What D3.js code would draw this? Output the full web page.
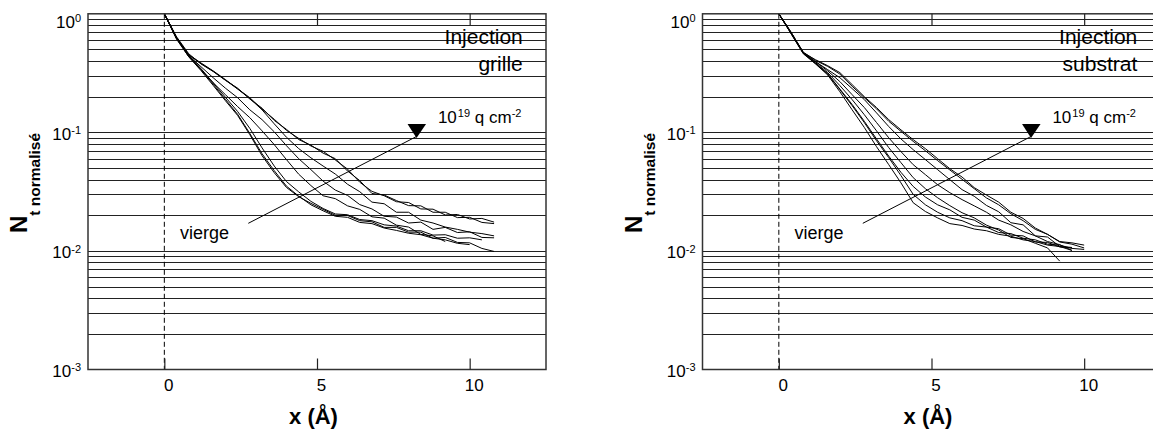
<!DOCTYPE html>
<html><head><meta charset="utf-8">
<script src="https://cdn.jsdelivr.net/npm/d3@7"></script>
<style>
body{margin:0;background:#fff}
svg{display:block}
text{font-family:"Liberation Sans",Arial,Helvetica,sans-serif}
</style>
</head><body>
<svg id="chart" width="1153" height="432"></svg>
<script>
// ---------- data ----------
const xTicks = [0, 5, 10];
const yDecades = [1, 0.1, 0.01, 0.001];
const xGrid = [0,0.4,0.8,1.2,1.6,2,2.4,2.8,3.2,3.6,4,4.4,4.8,5.2,5.6,6,6.4,6.8,7.2,7.6,8,8.4,8.8,9.2,9.6,10,10.4,10.8];

// Injection grille
const grille1 = [1.0,0.62,0.452,0.385,0.330,0.279,0.233,0.196,0.157,0.129,0.104,0.089,0.0768,0.0692,0.0585,0.0490,0.0380,0.0318,0.0292,0.0260,0.0256,0.0226,0.0225,0.0201,0.0203,0.0186,0.0188,0.0175];
const grille2 = [1.0,0.64,0.460,0.378,0.326,0.275,0.236,0.191,0.160,0.126,0.106,0.087,0.0780,0.0668,0.0600,0.0472,0.0392,0.0305,0.0296,0.0266,0.0241,0.0240,0.0212,0.0212,0.0191,0.0192,0.0174,0.0170];
const grille3 = [1.0,0.63,0.448,0.380,0.328,0.276,0.232,0.193,0.155,0.118,0.091,0.073,0.0610,0.0520,0.0445,0.0365,0.0316,0.0258,0.0250,0.0212,0.0212,0.0182,0.0172,0.0159,0.0152,0.0144,0.0140,0.0134];
const grille4 = [1.0,0.63,0.444,0.358,0.289,0.236,0.196,0.155,0.128,0.101,0.0772,0.0600,0.0485,0.0388,0.0326,0.0294,0.0246,0.0226,0.0196,0.0193,0.0172,0.0175,0.0152,0.0158,0.0143,0.0145,0.0130,0.0129];
const grille5 = [1.0,0.62,0.434,0.338,0.262,0.208,0.165,0.133,0.103,0.0788,0.0589,0.0444,0.0356,0.0292,0.0276,0.0240,0.0224,0.0194,0.0189,0.0165,0.0159,0.0138,0.0134,0.0120];
const grille6 = [1.0,0.61,0.434,0.332,0.249,0.185,0.139,0.0956,0.0636,0.0457,0.0343,0.0287,0.0252,0.0224,0.0200,0.0199,0.0180,0.0176,0.0158,0.0158,0.0144,0.0144,0.0128,0.0130,0.0118,0.0117,0.0105,0.0099];
const grille7 = [1.0,0.62,0.440,0.340,0.255,0.190,0.142,0.098,0.066,0.0475,0.0352,0.0290,0.0245,0.0218,0.0196,0.0192,0.0174,0.0170,0.0156,0.0149,0.0141,0.0137,0.0128,0.0124,0.0116,0.0113];
const grille8 = [1.0,0.63,0.445,0.345,0.262,0.198,0.150,0.108,0.074,0.052,0.0385,0.0315,0.0262,0.0228,0.0205,0.0202,0.0184,0.0180,0.0166,0.0162,0.0148,0.0148,0.0136,0.0137,0.0128,0.0129,0.0124];

// Injection substrat
const substrat1 = [1.0,0.69,0.470,0.410,0.365,0.319,0.253,0.200,0.162,0.128,0.105,0.0868,0.0729,0.0600,0.0494,0.0420,0.0342,0.0296,0.0258,0.0212,0.0188,0.0156,0.0138,0.0119,0.0114,0.0106];
const substrat2 = [1.0,0.70,0.475,0.405,0.360,0.310,0.245,0.196,0.158,0.124,0.102,0.0840,0.0700,0.0578,0.0482,0.0402,0.0335,0.0280,0.0245,0.0206,0.0180,0.0152,0.0138,0.0120,0.0117,0.0112];
const substrat3 = [1.0,0.69,0.470,0.395,0.338,0.289,0.234,0.189,0.146,0.112,0.088,0.0715,0.0589,0.0485,0.0399,0.0329,0.0289,0.0242,0.0214,0.0173,0.0166,0.0134,0.0131,0.0109,0.0107];
const substrat4 = [1.0,0.69,0.470,0.395,0.330,0.268,0.208,0.162,0.121,0.090,0.0688,0.0534,0.0440,0.0362,0.0310,0.0271,0.0240,0.0212,0.0182,0.0166,0.0146,0.0134,0.0120,0.0113,0.0101];
const substrat5 = [1.0,0.68,0.465,0.387,0.319,0.248,0.189,0.141,0.103,0.0743,0.0555,0.0415,0.0335,0.0281,0.0241,0.0210,0.0190,0.0165,0.0150,0.0130,0.0127,0.0116,0.0106,0.0082];
const substrat6 = [1.0,0.68,0.460,0.380,0.310,0.229,0.168,0.121,0.085,0.0612,0.0432,0.0300,0.0245,0.0212,0.0190,0.0180,0.0163,0.0159,0.0143,0.0140,0.0128,0.0124,0.0114,0.0112,0.0105,0.0103];
const substrat7 = [1.0,0.69,0.465,0.378,0.305,0.220,0.155,0.110,0.0757,0.0534,0.0375,0.0255,0.0215,0.0190,0.0170,0.0164,0.0153,0.0148,0.0138,0.0133,0.0124,0.0120,0.0112,0.0109,0.0101];
const substrat8 = [1.0,0.70,0.470,0.382,0.312,0.232,0.172,0.124,0.088,0.063,0.046,0.035,0.0285,0.0245,0.0222,0.0192,0.0182,0.0159,0.0154,0.0136,0.0134,0.0119,0.0118,0.0108,0.0106];

const grilleCurves = [grille1,grille2,grille3,grille4,grille5,grille6,grille7,grille8];
const substratCurves = [substrat1,substrat2,substrat3,substrat4,substrat5,substrat6,substrat7,substrat8];

const panelTitles = [["Injection","grille"],["Injection","substrat"]];
const arrowFrom = [2.75, 0.0171];
const arrowTo = [8.26, 0.0923];
const labelVierge = [0.51, 0.01254];
const labelDose = [8.96, 0.120];
const titlePos = [11.74, 0.556, 0.329];

// ---------- layout ----------
const svg = d3.select("#chart");
const W = 458, TOP = 13.8, BOT = 369.5;
const panels = [
  {left: 88, curves: grilleCurves, title: panelTitles[0]},
  {left: 702.5, curves: substratCurves, title: panelTitles[1]}
];

panels.forEach(p => {
  const g = svg.append("g").attr("transform", `translate(${p.left},0)`);
  const x = d3.scaleLinear().domain([-2.5, 12.5]).range([0, W]);
  const y = d3.scaleLog().domain([1e-3, 1]).range([BOT, TOP]);

  // horizontal grid
  const gridVals = y.ticks().filter(v => v > 1e-3*1.0001 && v < 0.9999);
  g.append("g").selectAll("line").data(gridVals).join("line")
    .attr("x1", 0).attr("x2", W)
    .attr("y1", d => Math.round(y(d)) + 0.5).attr("y2", d => Math.round(y(d)) + 0.5)
    .attr("stroke", "#222").attr("stroke-width", 1);

  // dashed zero line
  g.append("line").attr("x1", x(0)).attr("x2", x(0)).attr("y1", TOP).attr("y2", BOT)
    .attr("stroke", "#000").attr("stroke-width", 1).attr("stroke-dasharray", "5,3");

  // curves
  const line = d3.line().x((d, i) => x(xGrid[i])).y(d => y(d));
  g.append("g").selectAll("path").data(p.curves).join("path")
    .attr("d", line).attr("fill", "none").attr("stroke", "#000")
    .attr("stroke-width", 1).attr("stroke-linejoin", "round");

  // frame
  g.append("rect").attr("x", 0).attr("y", TOP).attr("width", W).attr("height", BOT - TOP)
    .attr("fill", "none").attr("stroke", "#333").attr("stroke-width", 1.5);

  // x axis bottom
  const xb = g.append("g").attr("transform", `translate(0,${BOT})`)
    .call(d3.axisBottom(x).tickValues(xTicks).tickSize(-11).tickPadding(9).tickFormat(d3.format("d")));
  xb.select(".domain").remove();
  xb.attr("font-family", null).attr("font-size", null);
  xb.selectAll("line").attr("stroke", "#222").attr("stroke-width", 1.2);
  xb.selectAll("text").attr("font-size", 17).attr("dx", 4);

  // x axis top ticks
  const xt = g.append("g").attr("transform", `translate(0,${TOP})`)
    .call(d3.axisTop(x).tickValues([5, 10]).tickSize(-12).tickFormat(""));
  xt.select(".domain").remove();
  xt.selectAll("line").attr("stroke", "#222").attr("stroke-width", 1.2);

  // y axis labels
  const ya = g.append("g")
    .call(d3.axisLeft(y).tickValues(yDecades).tickSize(0).tickPadding(7).tickFormat(""));
  ya.select(".domain").remove();
  ya.attr("font-family", null).attr("font-size", null);
  ya.selectAll(".tick text").each(function(d) {
    const t = d3.select(this).attr("font-size", 17).attr("y", d === 1 ? 8 : 1.5);
    t.append("tspan").text("10");
    t.append("tspan").attr("font-size", 11).attr("dy", -5.5).text(String(Math.round(Math.log10(d))));
  });

  // y title
  const yt = g.append("text").attr("transform", `translate(-61,233) rotate(-90)`)
    .attr("font-weight", "bold").attr("fill", "#000");
  yt.append("tspan").attr("font-size", 24).text("N");
  yt.append("tspan").attr("font-size", 15.5).attr("dy", 13).text("t normalisé");

  // x title
  g.append("text").attr("x", W / 2 - 3.5).attr("y", 424).attr("text-anchor", "middle")
    .attr("font-weight", "bold").attr("font-size", 22).text("x (Å)");

  // panel title
  g.append("text").attr("x", x(titlePos[0])).attr("y", y(titlePos[1]))
    .attr("text-anchor", "end").attr("font-size", 21).text(p.title[0]);
  g.append("text").attr("x", x(titlePos[0])).attr("y", y(titlePos[2]))
    .attr("text-anchor", "end").attr("font-size", 21).text(p.title[1]);

  // arrow
  const ax0 = x(arrowFrom[0]), ay0 = y(arrowFrom[1]), ax1 = x(arrowTo[0]), ay1 = y(arrowTo[1]);
  g.append("line").attr("x1", ax0).attr("y1", ay0).attr("x2", ax1).attr("y2", ay1)
    .attr("stroke", "#000").attr("stroke-width", 1);
  g.append("path")
    .attr("d", `M${ax1 - 9},${ay1 - 12.5}L${ax1 + 9.5},${ay1 - 12.5}L${ax1},${ay1 + 1.5}Z`)
    .attr("fill", "#000");

  // labels
  g.append("text").attr("x", x(labelVierge[0])).attr("y", y(labelVierge[1]))
    .attr("font-size", 18).text("vierge");
  const dose = g.append("text").attr("x", x(labelDose[0])).attr("y", y(labelDose[1])).attr("font-size", 17);
  dose.append("tspan").text("10");
  dose.append("tspan").attr("font-size", 11).attr("dy", -6).attr("dx", 1).text("19");
  dose.append("tspan").attr("dy", 6).text(" q cm");
  dose.append("tspan").attr("font-size", 11).attr("dy", -6).text("-2");
});
</script>
</body></html>
